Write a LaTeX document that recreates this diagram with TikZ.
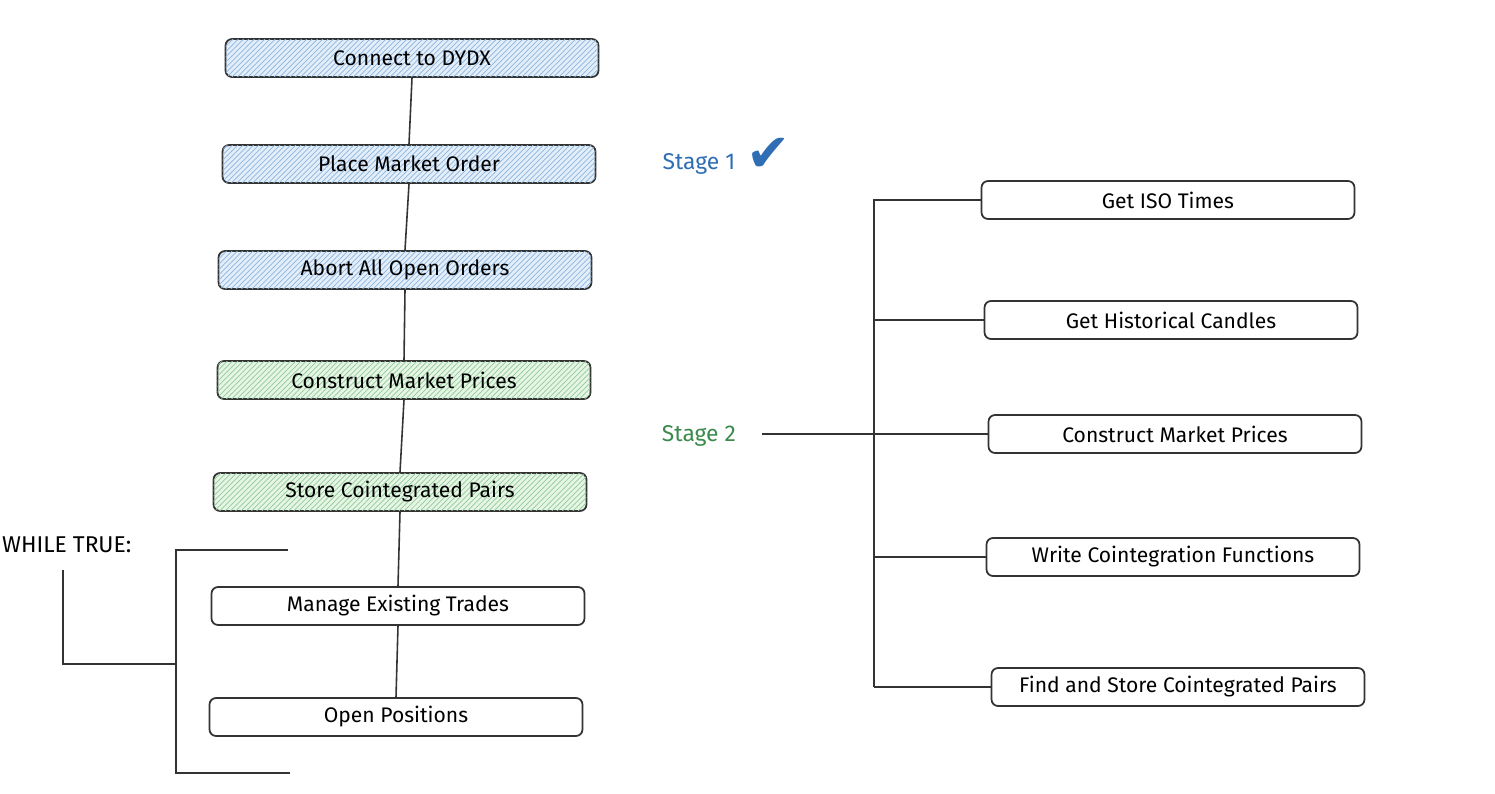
\documentclass[tikz,border=0pt]{standalone}
\usepackage{fontspec}
\setmainfont{Fira Sans}
\usetikzlibrary{patterns}
\definecolor{ink}{HTML}{333333}
\definecolor{bluefill}{HTML}{E3EEF9}
\definecolor{bluehatch}{HTML}{8DB6E0}
\definecolor{greenfill}{HTML}{E6F5E6}
\definecolor{greenhatch}{HTML}{93CB96}
\definecolor{stageblue}{HTML}{2F6DB5}
\definecolor{stagegreen}{HTML}{3B8A4C}
\tikzstyle{task}=[
	rectangle,
	rounded corners=0.13cm,
	draw=ink,
	line width=1pt,
	fill=white,
	minimum width=7.46cm,
	minimum height=0.76cm,
	font=\fontsize{12}{14}\selectfont
]
\tikzstyle{done}=[
	task,
	fill=bluefill,
	postaction={pattern=north east lines, pattern color=bluehatch}
]
\tikzstyle{current}=[
	task,
	fill=greenfill,
	postaction={pattern=north east lines, pattern color=greenhatch}
]
\tikzstyle{link}=[
	draw=ink,
	line width=0.9pt
]
\tikzstyle{stage}=[
	font=\fontsize{13}{15}\selectfont
]

\begin{document}
\begin{tikzpicture}[x=0.02cm,y=-0.02cm]
\useasboundingbox (0,0) rectangle (1495,794);
% left column
\node [done] (Connect) at (412,58) {Connect to DYDX};
\node [done] (Place) at (409,164) {Place Market Order};
\node [done] (Abort) at (405,270) {Abort All Open Orders};
\node [current] (Construct) at (404,380) {Construct Market Prices};
\node [current] (Store) at (400,492) {Store Cointegrated Pairs};
\node [task] (Manage) at (398,606) {Manage Existing Trades};
\node [task] (Open) at (396,717) {Open Positions};
\draw [link] (Connect.south) -- (Place.north);
\draw [link] (Place.south) -- (Abort.north);
\draw [link] (Abort.south) -- (Construct.north);
\draw [link] (Construct.south) -- (Store.north);
\draw [link] (Store.south) -- (Manage.north);
\draw [link] (Manage.south) -- (Open.north);

% loop bracket
\node [anchor=west, font=\fontsize{13}{15}\selectfont] (WhileTrue) at (-4,545) {WHILE TRUE:};
\coordinate (LoopTop) at (288,550);
\coordinate (LoopTopCorner) at (176,550);
\coordinate (LoopBotCorner) at (176,773);
\coordinate (LoopBot) at (290,773);
\coordinate (LoopJoint) at (176,664);
\coordinate (Hook) at (63,570);
\draw [link] (LoopTop) -- (LoopTopCorner) -- (LoopBotCorner) -- (LoopBot);
\draw [link] (Hook) |- (LoopJoint);

% stages
\node [stage, text=stageblue] (StageOne) at (699,164) {Stage 1};
\node [font=\fontsize{30}{30}\selectfont\fontspec{DejaVu Sans}, text=stageblue] (Check) at (769,155) {✔};
\node [stage, text=stagegreen] (StageTwo) at (699,436) {Stage 2};

% right column
\node [task] (IsoTimes) at (1168,200) {Get ISO Times};
\node [task] (Candles) at (1171,320) {Get Historical Candles};
\node [task] (Prices) at (1175,434) {Construct Market Prices};
\node [task] (CointFunc) at (1173,557) {Write Cointegration Functions};
\node [task] (FindPairs) at (1178,687) {Find and Store Cointegrated Pairs};
\coordinate (TrunkTop) at (874,199);
\coordinate (TrunkBot) at (874,687);
\draw [link] (TrunkTop) -- (TrunkBot);
\foreach \n in {IsoTimes,Candles,Prices,CointFunc,FindPairs}
	\draw [link] (\n.west -| TrunkTop) -- (\n.west);
\coordinate (StageTwoEnd) at ([xshift=0.4cm]StageTwo.east);
\draw [link] (StageTwoEnd |- Prices.west) -- (Prices.west);
\end{tikzpicture}
\end{document}
